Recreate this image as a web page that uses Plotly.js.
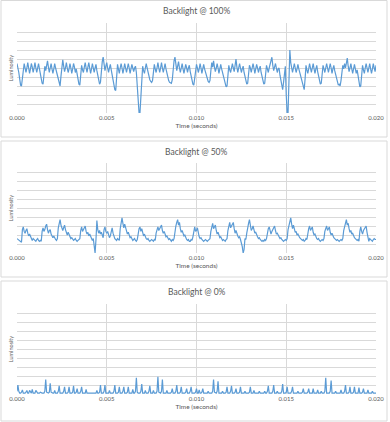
<!DOCTYPE html>
<html>
<head>
<meta charset="utf-8">
<script src="https://cdn.plot.ly/plotly-3.0.1.min.js"></script>
<style>
  html, body { margin: 0; padding: 0; background: #ffffff; }
  #chart { width: 390px; height: 422px; }
</style>
</head>
<body>
<div id="chart"></div>
<script>
// ---- Data ----
const panelTitles = ["Backlight @ 100%", "Backlight @ 50%", "Backlight @ 0%"];
const xTickValues = [0, 0.005, 0.010, 0.015, 0.020];
const xTickLabels = ["0.000", "0.005", "0.010", "0.015", "0.020"];
const sampleStep = 0.00005; // seconds between samples (0.020 s window, 401 samples)

const luminosity100 = [
  5.5,5.1,4.5,3.8,3.1,3.0,3.9,4.9,5.5,5.0,4.5,5.0,5.6,5.0,4.4,4.9,5.5,5.1,4.5,5.0,
  5.6,5.0,4.5,5.0,5.5,4.9,4.3,3.7,3.3,3.2,4.2,5.2,4.7,5.3,5.8,5.1,4.5,5.0,5.5,4.9,
  4.4,4.9,5.5,5.0,4.6,4.1,3.5,3.1,3.0,4.1,5.0,5.9,5.2,4.6,5.0,5.6,5.0,4.5,4.9,5.5,
  5.0,4.4,4.9,5.5,5.1,4.5,4.9,4.3,3.7,3.2,3.1,4.3,5.3,4.8,4.5,5.1,5.6,5.0,4.5,5.1,
  5.6,5.0,4.4,4.9,5.5,5.0,4.5,5.0,5.4,4.7,4.1,3.5,3.2,3.4,4.8,5.7,6.2,5.3,4.7,5.2,
  5.6,5.0,4.5,5.0,5.4,4.8,4.2,3.6,3.0,2.6,2.5,3.9,5.4,4.9,4.4,5.0,5.5,5.0,4.4,4.9,
  5.5,5.0,4.5,5.0,5.5,5.0,4.4,4.9,5.4,5.0,4.6,5.0,5.2,4.5,3.0,1.0,0.0,0.0,1.5,4.0,
  5.2,4.7,4.4,5.0,5.5,5.0,4.5,4.0,3.7,3.5,3.4,3.6,4.7,5.4,4.9,4.5,5.0,5.6,5.0,4.5,
  5.0,5.6,5.0,4.5,5.0,5.5,4.9,4.4,4.0,3.6,3.4,3.3,3.3,3.7,4.9,5.8,6.2,5.3,4.7,5.2,
  5.7,5.0,4.5,5.0,5.5,4.9,4.4,4.9,5.4,5.0,4.5,5.0,5.3,4.6,4.1,3.6,3.2,3.1,3.7,4.8,
  5.4,5.0,4.5,4.9,5.5,5.0,4.4,4.9,5.4,4.9,4.5,4.2,3.8,3.5,3.4,3.6,4.7,5.6,5.1,5.8,
  5.1,4.6,5.0,5.5,5.0,4.4,4.9,5.4,4.9,4.5,4.0,3.6,3.1,2.9,3.0,4.3,5.3,4.8,4.5,5.0,
  5.5,5.0,4.6,5.3,6.0,5.1,4.5,5.0,5.5,5.0,4.5,4.9,5.2,4.5,3.9,3.4,3.2,3.3,4.5,5.3,
  5.0,4.5,5.0,5.5,5.0,4.4,4.9,5.4,5.0,4.5,4.9,5.2,4.5,3.9,3.4,3.2,3.3,4.5,5.3,4.9,
  4.5,5.0,5.5,5.9,6.2,5.3,4.7,5.1,5.5,5.0,4.5,4.9,5.0,4.2,3.5,2.8,2.6,3.4,4.5,5.2,
  2.0,0.0,0.0,3.5,7.0,5.6,4.8,4.5,5.0,5.5,5.0,4.5,4.9,5.4,4.9,4.5,4.2,3.7,3.1,2.7,
  2.6,3.8,5.3,4.8,4.4,4.9,5.5,5.0,4.5,5.0,5.5,4.9,4.4,4.9,5.3,4.6,4.0,3.5,3.2,3.3,
  4.4,5.3,4.9,4.5,5.0,5.5,5.0,4.5,5.0,5.5,5.0,4.4,4.9,5.3,4.7,4.2,3.7,3.3,3.1,3.2,
  3.0,3.6,4.7,5.3,4.9,5.5,5.0,5.6,6.1,5.2,4.6,5.0,5.5,4.9,4.4,4.9,5.4,4.9,4.4,4.8,
  4.2,3.5,2.9,3.0,4.4,5.3,4.8,4.4,5.0,5.5,5.0,4.5,5.0,5.5,4.9,4.4,4.9,5.5,5.0,4.6,5.3
];

const luminosity50 = [
  1.6,1.5,1.4,1.3,1.3,1.2,2.6,2.9,2.4,2.2,2.5,2.7,2.2,1.9,2.1,1.8,1.5,1.4,1.6,1.5,
  1.3,1.3,1.5,1.6,1.4,1.3,1.4,1.3,2.4,2.8,2.4,2.6,3.0,3.2,2.6,2.2,2.5,2.6,2.1,1.8,
  1.7,1.9,1.6,1.5,1.4,1.6,2.8,3.3,3.7,3.1,2.7,2.5,2.8,3.1,2.6,2.2,2.0,2.3,2.0,1.7,
  1.6,1.7,1.5,1.4,1.5,1.6,1.4,1.3,1.4,1.5,1.6,2.5,2.9,2.4,2.6,2.8,3.0,2.4,2.1,2.3,
  1.9,2.1,1.8,1.6,1.4,1.6,0.6,0.0,1.5,3.6,2.6,2.2,2.5,2.1,2.3,1.8,1.7,2.6,2.9,2.4,
  2.2,2.4,2.0,1.7,1.9,2.4,2.8,2.2,1.8,1.6,1.5,1.4,1.6,1.5,1.4,2.7,3.3,3.9,3.3,2.8,
  3.2,2.7,2.4,2.1,2.3,1.9,1.7,1.8,1.6,1.4,1.5,1.6,1.4,1.3,1.5,2.4,2.7,2.9,2.4,2.7,
  2.3,1.9,2.1,1.8,1.6,1.5,1.6,1.4,1.3,1.4,1.5,1.4,1.3,1.5,1.4,2.2,2.6,2.9,2.5,2.7,
  2.9,3.1,2.5,2.2,2.4,2.0,1.8,1.9,1.6,1.5,1.6,1.4,1.3,1.5,1.4,1.6,2.6,3.0,3.4,3.7,
  3.1,3.4,2.7,2.3,2.5,2.1,1.9,2.0,1.7,1.5,1.4,1.5,1.3,1.3,1.5,1.4,1.8,2.6,2.9,2.4,
  2.5,2.8,2.2,1.8,1.6,1.7,1.5,1.4,1.3,1.4,1.5,1.4,1.3,1.4,1.5,1.6,2.4,2.9,3.3,2.7,
  2.9,3.1,2.5,2.1,2.3,1.9,1.7,1.8,1.6,1.4,1.5,1.4,1.3,1.5,1.6,2.5,3.0,3.4,2.8,3.0,
  3.2,3.4,2.7,2.2,2.5,2.0,1.9,1.7,1.8,1.5,1.2,0.7,0.0,0.4,1.6,1.5,2.2,2.9,3.3,3.7,
  2.9,2.5,2.7,3.0,2.6,2.2,2.3,1.9,1.8,1.6,1.7,1.5,1.4,1.3,1.4,1.3,1.5,1.4,1.6,2.3,
  2.7,2.9,2.4,2.1,2.4,2.6,2.8,3.0,2.5,2.1,2.2,1.9,1.8,1.6,1.7,1.5,1.4,1.3,1.4,1.5,
  1.4,1.6,2.6,3.1,3.5,3.9,3.2,2.7,3.1,2.6,2.3,2.4,2.0,2.1,1.8,1.7,1.6,1.5,1.4,1.5,
  1.3,1.4,1.6,1.5,2.3,2.7,3.0,2.5,2.7,2.9,2.3,2.0,2.1,1.8,1.6,1.5,1.6,1.4,1.3,1.4,
  1.5,1.4,1.6,2.4,2.8,3.0,2.5,2.7,2.9,2.3,2.0,2.2,1.8,1.7,1.6,1.5,1.4,1.5,1.4,1.3,
  1.4,1.5,1.4,1.6,2.5,3.0,3.4,3.7,3.1,3.3,2.7,2.3,2.5,2.1,2.2,1.8,1.7,1.6,1.5,1.4,
  1.5,1.3,2.4,2.9,2.4,2.1,2.5,2.7,2.9,3.0,2.3,1.8,1.3,1.6,1.5,1.4,1.3,1.5,1.6,1.5,1.5
];

const luminosity0 = [
  0.3,1.0,0.3,0.1,0.1,0.2,0.45,0.1,0.1,0.1,0.2,0.4,0.1,0.1,0.4,0.2,0.1,0.5,0.1,0.1,
  0.1,0.4,0.2,0.1,0.1,0.1,0.2,0.1,0.1,0.1,0.1,0.3,1.6,0.2,0.1,0.1,0.2,1.2,0.2,0.1,
  0.1,0.1,0.4,0.1,0.1,0.1,0.3,0.9,0.1,0.1,0.1,0.1,0.3,0.8,0.1,0.1,0.1,0.2,0.8,0.1,
  0.1,0.1,0.2,0.9,0.1,0.1,0.2,0.6,0.1,0.1,0.1,0.3,0.8,0.1,0.1,0.1,0.1,0.5,0.1,0.1,
  0.1,0.1,0.1,0.1,0.1,0.1,0.1,0.1,0.1,0.4,0.1,0.1,0.2,1.0,0.1,0.1,0.1,0.3,1.0,0.1,
  0.1,0.1,0.1,0.4,0.1,0.1,0.1,0.1,0.3,1.0,0.1,0.1,0.1,0.2,0.8,0.1,0.1,0.1,0.3,0.8,
  0.1,0.1,0.1,0.2,0.8,0.1,0.1,0.1,0.1,0.5,0.1,0.1,0.3,1.8,0.2,0.1,0.1,0.1,0.3,1.1,
  0.1,0.1,0.1,0.4,0.1,0.1,0.1,0.3,0.9,0.1,0.1,0.1,0.4,0.1,0.1,0.1,0.3,1.9,0.2,0.1,
  0.1,0.3,1.6,0.1,0.1,0.1,0.1,0.4,0.1,0.1,0.1,0.1,0.2,0.6,0.1,0.1,0.1,0.3,1.0,0.1,
  0.1,0.1,0.2,0.8,0.1,0.1,0.1,0.1,0.2,0.6,0.1,0.1,0.1,0.3,0.8,0.1,0.1,0.1,0.1,0.2,
  0.6,0.1,0.1,0.45,0.1,0.1,0.2,0.6,0.1,0.1,0.1,0.1,0.1,0.3,0.1,0.1,0.1,0.1,0.3,1.6,
  0.2,0.1,0.1,0.3,1.4,0.1,0.1,0.1,0.1,0.3,0.1,0.1,0.1,0.2,0.8,0.1,0.1,0.1,0.3,0.9,
  0.1,0.1,0.1,0.2,0.6,0.1,0.1,0.1,0.2,0.8,0.1,0.1,0.1,0.1,0.3,0.1,0.1,0.1,0.1,0.2,
  0.8,0.1,0.1,0.1,0.4,0.1,0.1,0.1,0.1,0.1,0.3,0.1,0.1,0.1,0.1,0.1,0.3,0.1,0.1,0.3,
  0.9,0.1,0.1,0.1,0.1,0.3,1.0,0.1,0.1,0.1,0.3,0.1,0.1,0.1,0.1,0.3,1.1,0.1,0.1,0.1,
  0.2,0.8,0.1,0.1,0.1,0.1,0.3,0.8,0.1,0.1,0.1,0.1,0.1,0.3,0.1,0.1,0.1,0.1,0.2,0.6,
  0.1,0.1,0.1,0.1,0.2,0.6,0.1,0.1,0.1,0.1,0.6,0.1,0.1,0.1,0.1,0.45,0.1,0.1,0.1,0.3,
  0.1,0.1,0.1,0.3,1.8,0.1,0.1,0.1,0.1,0.3,1.5,0.1,0.1,0.1,0.1,0.3,0.1,0.1,0.1,0.1,
  0.1,0.45,0.1,0.1,0.1,0.3,1.0,0.1,0.1,0.1,0.2,0.8,0.1,0.1,0.1,0.2,0.8,0.1,0.1,0.1,
  0.1,0.7,0.1,0.1,0.1,0.2,0.6,0.1,0.1,0.1,0.1,0.45,0.1,0.1,0.1,0.1,0.3,0.1,0.1,0.1,0.1
];

// ---- Build chart ----
const series = [luminosity100, luminosity50, luminosity0];
const timeOf = (arr) => arr.map((_, i) => +(i * sampleStep).toFixed(5));

const H = 422, W = 390;
const plotRows = [[23, 113], [163, 253], [304, 394]];
const boxRows = [[0.5, 137], [141, 277], [281, 421]];
const titleRows = [11, 152, 292];

const lineColor = "#5b9bd5";
const gridColor = "#d9d9d9";
const textColor = "#595959";
const fontFam = "Lato, 'Open Sans', sans-serif";

const traces = [];
const layout = {
  width: W, height: H,
  margin: { l: 17, r: 14, t: 0, b: 0, pad: 0 },
  paper_bgcolor: "#ffffff",
  plot_bgcolor: "#ffffff",
  showlegend: false,
  font: { family: fontFam, color: textColor },
  annotations: [],
  shapes: []
};

series.forEach((vals, k) => {
  const n = k === 0 ? "" : String(k + 1);
  traces.push({
    type: "scatter", mode: "lines",
    x: timeOf(vals), y: vals,
    xaxis: "x" + n, yaxis: "y" + n,
    line: { color: lineColor, width: 1.2 },
    hoverinfo: "skip"
  });
  const [top, bot] = plotRows[k];
  layout["xaxis" + n] = {
    domain: [0, 1],
    anchor: "y" + n,
    range: [0, 0.02],
    tickvals: xTickValues,
    ticktext: xTickLabels,
    showgrid: true, gridcolor: gridColor, gridwidth: 1,
    zeroline: false, showline: false, ticks: "",
    tickfont: { size: 6, color: textColor, family: fontFam },
    title: { text: "Time (seconds)", font: { size: 6.5, color: textColor, family: fontFam }, standoff: 3 },
    automargin: false, fixedrange: true
  };
  layout["yaxis" + n] = {
    domain: [(H - bot) / H, (H - top) / H],
    anchor: "x" + n,
    range: [0, 10],
    dtick: 1,
    showticklabels: false,
    showgrid: true, gridcolor: gridColor, gridwidth: 1,
    zeroline: false, showline: false, ticks: "",
    title: { text: "Luminosity", font: { size: 5.5, color: textColor, family: fontFam }, standoff: 2 },
    automargin: false, fixedrange: true
  };
  layout.annotations.push({
    text: panelTitles[k],
    xref: "paper", yref: "paper",
    x: 0.5, y: (H - titleRows[k]) / H,
    xanchor: "center", yanchor: "middle",
    showarrow: false,
    font: { size: 8.5, color: textColor, family: fontFam }
  });
  const [bt, bb] = boxRows[k];
  layout.shapes.push({
    type: "rect", xref: "paper", yref: "paper",
    x0: (1 - 17) / (W - 31), x1: (387 - 17) / (W - 31),
    y0: (H - bb) / H, y1: (H - bt) / H,
    line: { color: gridColor, width: 1 },
    fillcolor: "rgba(0,0,0,0)", layer: "below"
  });
});

Plotly.newPlot("chart", traces, layout, { staticPlot: true, displayModeBar: false });
</script>
</body>
</html>
